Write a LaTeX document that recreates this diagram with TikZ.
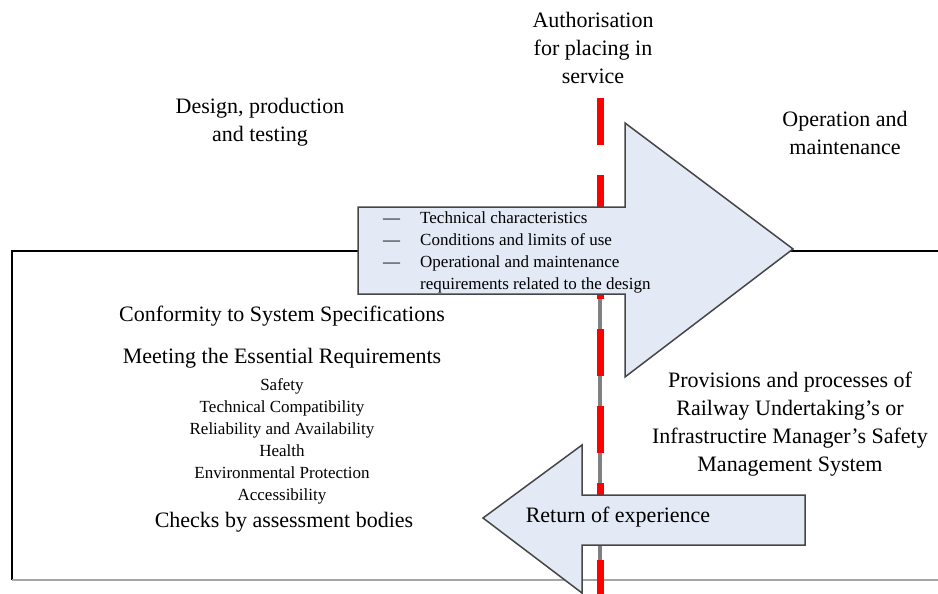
\documentclass[tikz,border=0pt]{standalone}
\usepackage{fontspec}
\setmainfont{Liberation Serif}
\definecolor{arrowfill}{RGB}{227,234,245}
\definecolor{arrowline}{RGB}{70,70,70}

\begin{document}
\begin{tikzpicture}[x=1pt, y=-1pt,
    big/.style={font=\fontsize{22}{28}\selectfont, align=center},
    small/.style={font=\fontsize{17}{22}\selectfont, align=center},
    bigarrow/.style={fill=arrowfill, draw=arrowline, line width=1.5pt}]
      \def\dashbox{\makebox[37pt][l]{---}}
      \useasboundingbox (0,0) rectangle (938,594);

      % frame
      \draw[line width=1.5pt] (938,251) -- (12,251) -- (12,580);
      \draw[line width=2pt, gray!70] (12,580) -- (938,580);

      % line of authorisation
      \draw[line width=4pt, gray] (600,290) -- (600,594);
      \draw[line width=7pt, red, dash pattern=on 47pt off 30pt] (600,98) -- (600,600);

      % forward arrow
      \draw[bigarrow] (358,207) -- (625,207) -- (625,123) -- (793,249)
          -- (625,377) -- (625,294) -- (358,294) -- cycle;

      % return arrow
      \draw[bigarrow] (805,495) -- (582,495) -- (582,445) -- (483,518)
          -- (582,593) -- (582,545) -- (805,545) -- cycle;

      \node[big] (auth) at (593,48) {Authorisation\\for placing in\\service};
      \node[big] (design) at (260,122) {Design, production\\and testing};
      \node[big] (oper) at (845,133) {Operation and\\maintenance};

      \node[small, align=left, anchor=north west, inner sep=0pt] (feat) at (383,212)
          {\dashbox Technical characteristics\\\dashbox Conditions and limits of use\\
           \dashbox Operational and maintenance\\\hspace*{37pt}requirements related to the design};

      \node[big] (conf) at (282,316) {Conformity to System Specifications};
      \node[big] (meet) at (282,358) {Meeting the Essential Requirements};
      \node[small] (reqs) at (282,441) {Safety\\Technical Compatibility\\Reliability and Availability\\Health\\Environmental Protection\\Accessibility};
      \node[big] (checks) at (284,522) {Checks by assessment bodies};

      \node[big] (sms) at (790,424) {Provisions and processes of\\Railway Undertaking’s or\\Infrastructire Manager’s Safety\\Management System};
      \node[big] (ret) at (618,517) {Return of experience};

\end{tikzpicture}
\end{document}
